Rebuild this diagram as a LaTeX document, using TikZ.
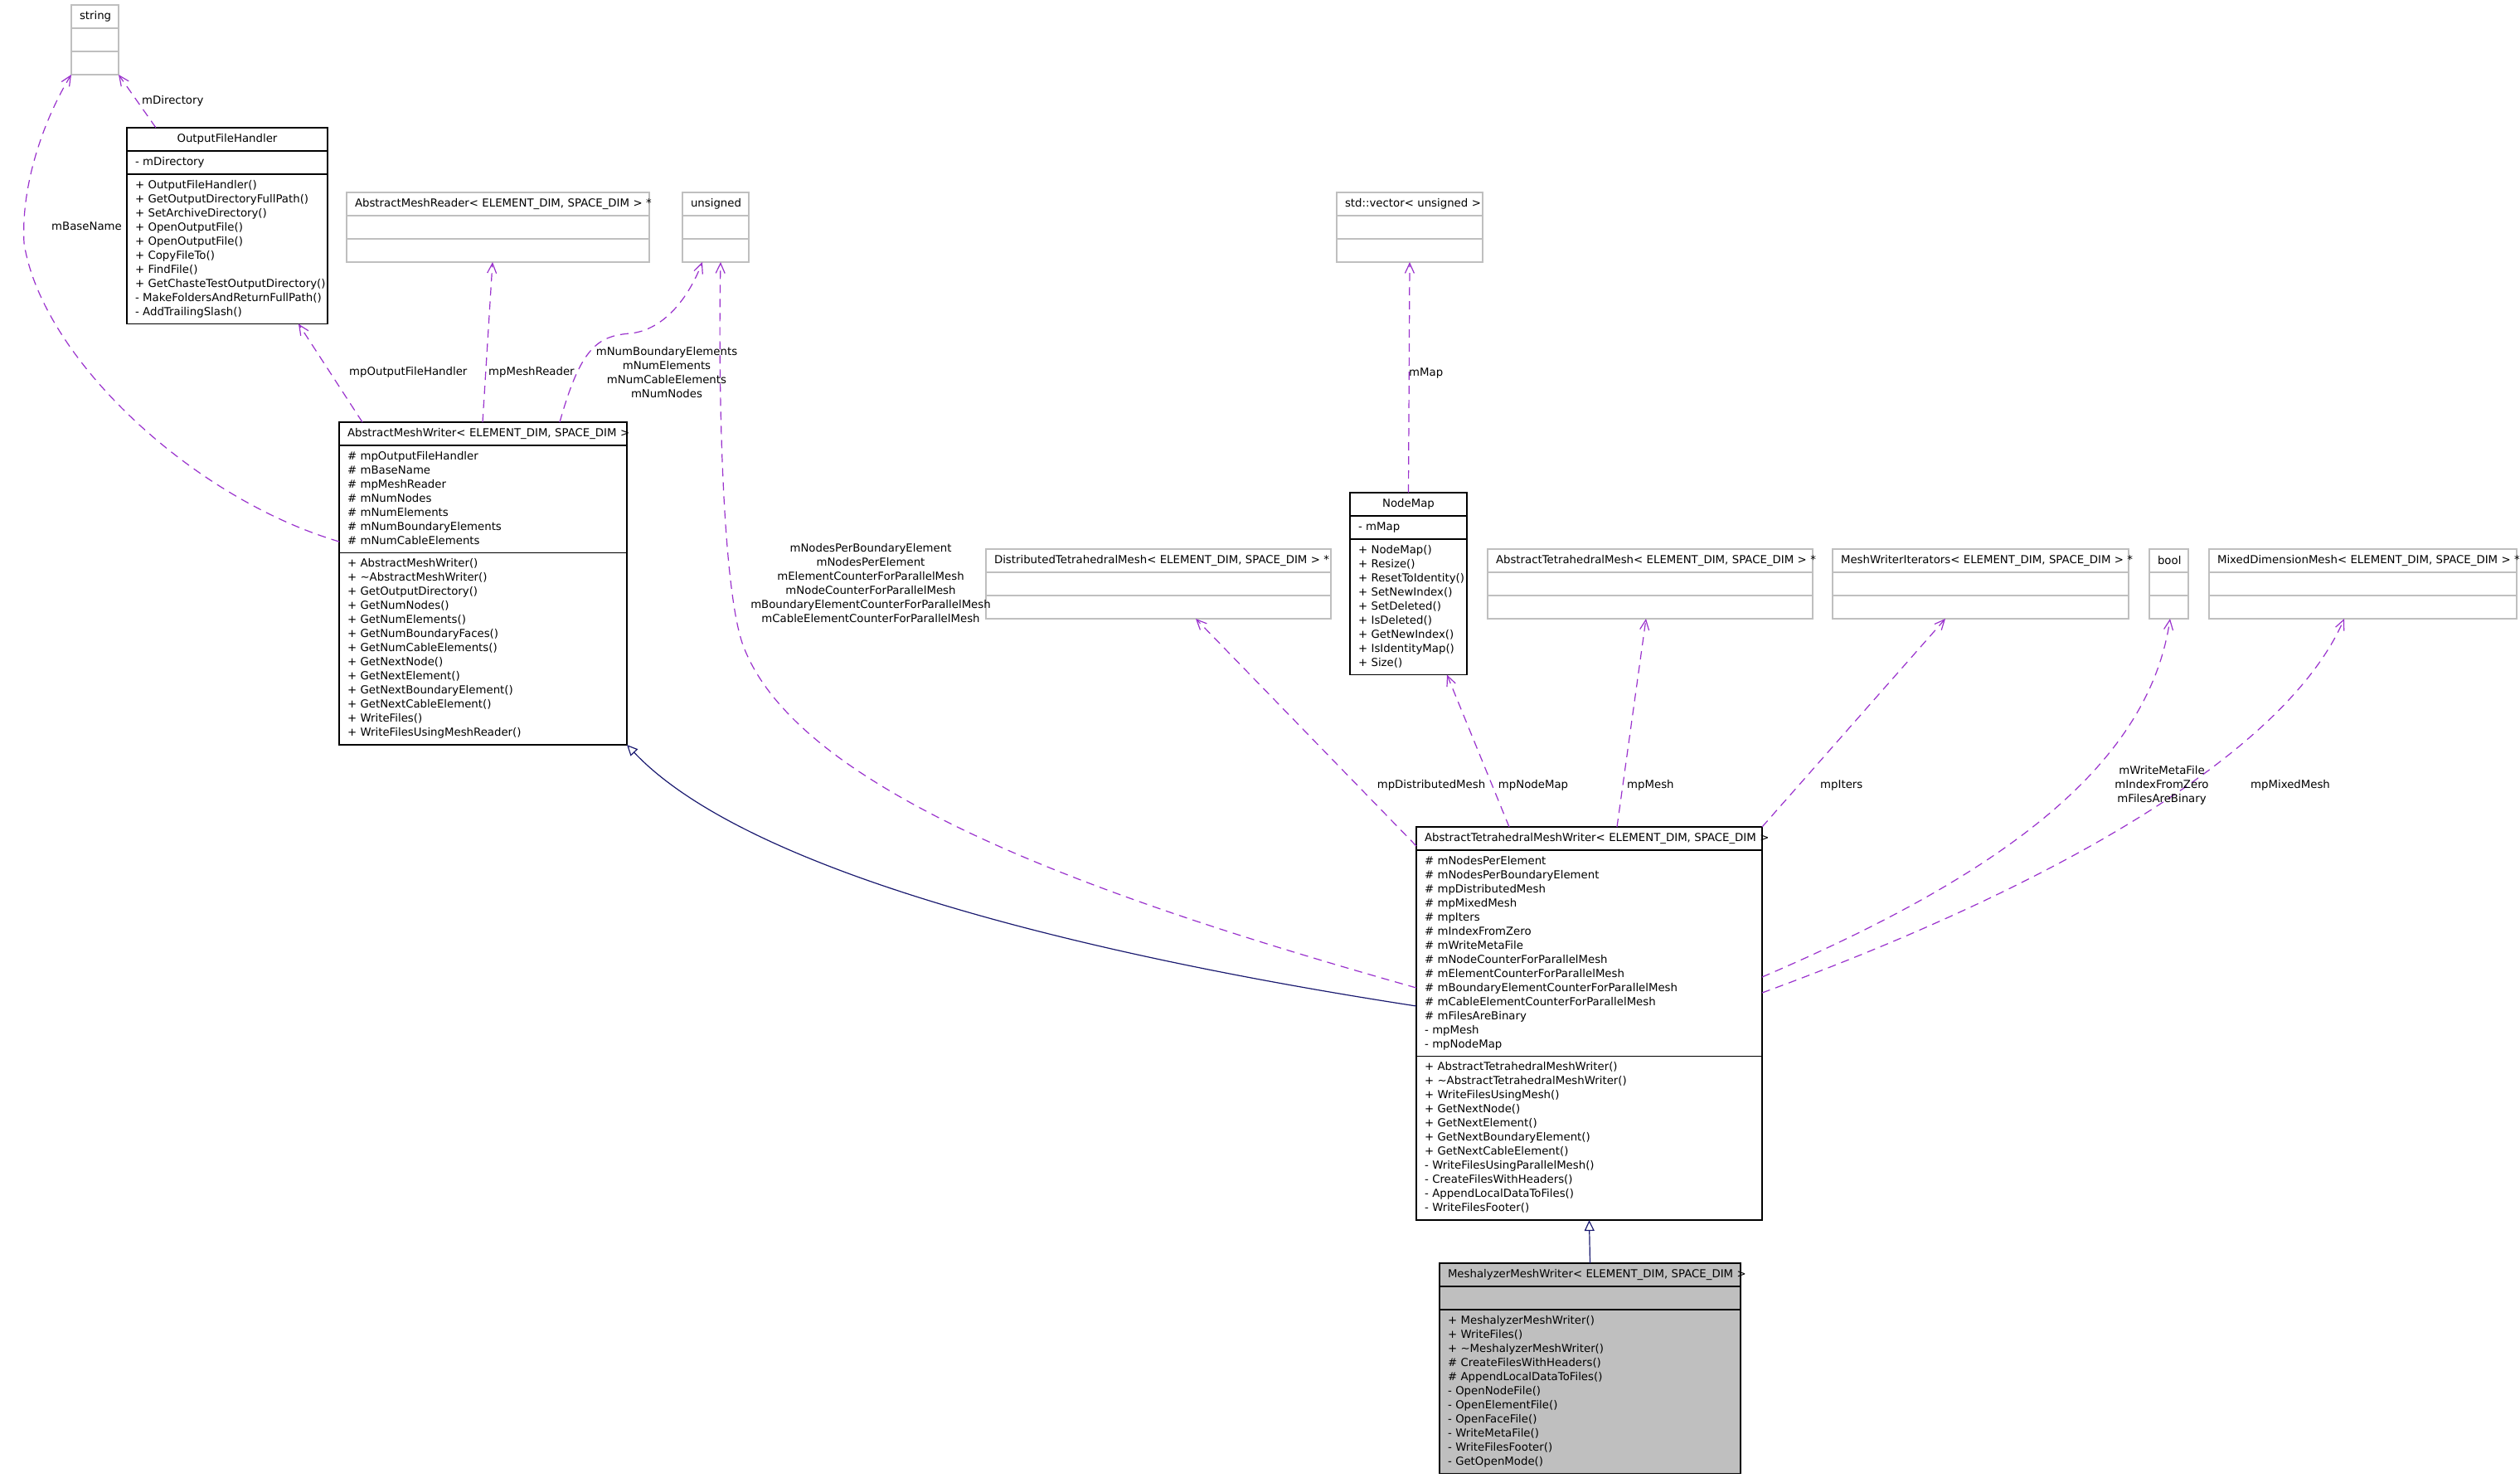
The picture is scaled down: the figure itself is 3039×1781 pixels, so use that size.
\documentclass[tikz,border=0pt]{standalone}
\usepackage{fontspec}
\setmainfont{DejaVu Sans}
\usetikzlibrary{positioning,arrows.meta}
\definecolor{doxorchid}{HTML}{9A32CD}
\definecolor{doxnavy}{HTML}{191970}
\definecolor{doxgrey}{HTML}{BFBFBF}
\newcommand{\dox}{\fontsize{13.3}{17}\selectfont}
\newcommand{\mlist}[1]{\begin{tabular}{@{}l@{}}#1\end{tabular}}
% centred title, running out to the right when too long
\newcommand{\clstitle}[1]{\hbox to\linewidth{\hskip 0pt plus 1fil#1\hskip 0pt plus 1fil minus 1fil}}
\tikzset{
  clsbox/.style={draw=black, fill=white, line width=1.2pt, outer sep=0pt,
              inner xsep=10pt, inner ysep=5.25pt, minimum height=28pt, font=\dox},
  clshead/.style={clsbox, anchor=north west, align=left},
  clspart/.style={clsbox, align=left},
  extcls/.style={draw=doxgrey},
  curcls/.style={fill=doxgrey},
  useedge/.style={draw=doxorchid, line width=1.2pt, dash pattern=on 10pt off 7pt,
              -{Straight Barb[length=12pt,width=11pt]}},
  isaedge/.style={draw=doxnavy, line width=1.2pt, -{Triangle[open,length=13pt,width=12pt]}},
  lbl/.style={font=\dox, inner sep=0pt},
}
\begin{document}
\begin{tikzpicture}[x=1pt, y=-1pt]
\path[use as bounding box, fill=white] (0,0) rectangle (3039,1781);

% --- top row ---
\node[clshead, extcls, text width=37pt] (strg) at (86,6) {\clstitle{string}};
\node[clspart, extcls, text width=37pt, below=0pt of strg] (strgA) {};
\node[clspart, extcls, text width=37pt, below=0pt of strgA] (strgM) {};

\node[clshead, text width=222pt] (ofh) at (153,154) {\clstitle{OutputFileHandler}};
\node[clspart, text width=222pt, below=0pt of ofh] (ofhA) {\mlist{- mDirectory}};
\node[clspart, text width=222pt, below=0pt of ofhA] (ofhM) {\mlist{+ OutputFileHandler()\\
  + GetOutputDirectoryFullPath()\\ + SetArchiveDirectory()\\ + OpenOutputFile()\\
  + OpenOutputFile()\\ + CopyFileTo()\\ + FindFile()\\ + GetChasteTestOutputDirectory()\\
  - MakeFoldersAndReturnFullPath()\\ - AddTrailingSlash()}};

\node[clshead, extcls, text width=345pt] (amr) at (418,232)
  {\clstitle{AbstractMeshReader< ELEMENT\_DIM, SPACE\_DIM > *}};
\node[clspart, extcls, text width=345pt, below=0pt of amr] (amrA) {};
\node[clspart, extcls, text width=345pt, below=0pt of amrA] (amrM) {};

\node[clshead, extcls, text width=60pt] (uns) at (823,232) {\clstitle{unsigned}};
\node[clspart, extcls, text width=60pt, below=0pt of uns] (unsA) {};
\node[clspart, extcls, text width=60pt, below=0pt of unsA] (unsM) {};

\node[clshead, extcls, text width=156pt] (vec) at (1612,232) {\clstitle{std::vector< unsigned >}};
\node[clspart, extcls, text width=156pt, below=0pt of vec] (vecA) {};
\node[clspart, extcls, text width=156pt, below=0pt of vecA] (vecM) {};

% --- middle row ---
\node[clshead, text width=327pt] (amw) at (409,509)
  {\clstitle{AbstractMeshWriter< ELEMENT\_DIM, SPACE\_DIM >}};
\node[clspart, text width=327pt, below=0pt of amw] (amwA) {\mlist{\# mpOutputFileHandler\\
  \# mBaseName\\ \# mpMeshReader\\ \# mNumNodes\\ \# mNumElements\\
  \# mNumBoundaryElements\\ \# mNumCableElements}};
\node[clspart, text width=327pt, below=0pt of amwA] (amwM) {\mlist{+ AbstractMeshWriter()\\
  + \textasciitilde AbstractMeshWriter()\\ + GetOutputDirectory()\\ + GetNumNodes()\\
  + GetNumElements()\\ + GetNumBoundaryFaces()\\ + GetNumCableElements()\\
  + GetNextNode()\\ + GetNextElement()\\ + GetNextBoundaryElement()\\
  + GetNextCableElement()\\ + WriteFiles()\\ + WriteFilesUsingMeshReader()}};

\node[clshead, text width=121pt] (nmap) at (1628,594) {\clstitle{NodeMap}};
\node[clspart, text width=121pt, below=0pt of nmap] (nmapA) {\mlist{- mMap}};
\node[clspart, text width=121pt, below=0pt of nmapA] (nmapM) {\mlist{+ NodeMap()\\ + Resize()\\
  + ResetToIdentity()\\ + SetNewIndex()\\ + SetDeleted()\\ + IsDeleted()\\
  + GetNewIndex()\\ + IsIdentityMap()\\ + Size()}};

\node[clshead, extcls, text width=396pt] (dtm) at (1189,662)
  {\clstitle{DistributedTetrahedralMesh< ELEMENT\_DIM, SPACE\_DIM > *}};
\node[clspart, extcls, text width=396pt, below=0pt of dtm] (dtmA) {};
\node[clspart, extcls, text width=396pt, below=0pt of dtmA] (dtmM) {};

\node[clshead, extcls, text width=372pt] (atm) at (1794,662)
  {\clstitle{AbstractTetrahedralMesh< ELEMENT\_DIM, SPACE\_DIM > *}};
\node[clspart, extcls, text width=372pt, below=0pt of atm] (atmA) {};
\node[clspart, extcls, text width=372pt, below=0pt of atmA] (atmM) {};

\node[clshead, extcls, text width=337pt] (mwi) at (2210,662)
  {\clstitle{MeshWriterIterators< ELEMENT\_DIM, SPACE\_DIM > *}};
\node[clspart, extcls, text width=337pt, below=0pt of mwi] (mwiA) {};
\node[clspart, extcls, text width=337pt, below=0pt of mwiA] (mwiM) {};

\node[clshead, extcls, text width=27pt] (bool) at (2592,662) {\clstitle{bool}};
\node[clspart, extcls, text width=27pt, below=0pt of bool] (boolA) {};
\node[clspart, extcls, text width=27pt, below=0pt of boolA] (boolM) {};

\node[clshead, extcls, text width=351pt] (mdm) at (2664,662)
  {\clstitle{MixedDimensionMesh< ELEMENT\_DIM, SPACE\_DIM > *}};
\node[clspart, extcls, text width=351pt, below=0pt of mdm] (mdmA) {};
\node[clspart, extcls, text width=351pt, below=0pt of mdmA] (mdmM) {};

% --- bottom ---
\node[clshead, text width=397pt] (atmw) at (1708,997)
  {\clstitle{AbstractTetrahedralMeshWriter< ELEMENT\_DIM, SPACE\_DIM >}};
\node[clspart, text width=397pt, below=0pt of atmw] (atmwA) {\mlist{\# mNodesPerElement\\
  \# mNodesPerBoundaryElement\\ \# mpDistributedMesh\\ \# mpMixedMesh\\ \# mpIters\\
  \# mIndexFromZero\\ \# mWriteMetaFile\\ \# mNodeCounterForParallelMesh\\
  \# mElementCounterForParallelMesh\\ \# mBoundaryElementCounterForParallelMesh\\
  \# mCableElementCounterForParallelMesh\\ \# mFilesAreBinary\\ - mpMesh\\ - mpNodeMap}};
\node[clspart, text width=397pt, below=0pt of atmwA] (atmwM) {\mlist{+ AbstractTetrahedralMeshWriter()\\
  + \textasciitilde AbstractTetrahedralMeshWriter()\\ + WriteFilesUsingMesh()\\
  + GetNextNode()\\ + GetNextElement()\\ + GetNextBoundaryElement()\\
  + GetNextCableElement()\\ - WriteFilesUsingParallelMesh()\\ - CreateFilesWithHeaders()\\
  - AppendLocalDataToFiles()\\ - WriteFilesFooter()}};

\node[clshead, curcls, text width=343pt] (msh) at (1736,1523)
  {\clstitle{MeshalyzerMeshWriter< ELEMENT\_DIM, SPACE\_DIM >}};
\node[clspart, curcls, text width=343pt, below=0pt of msh] (mshA) {};
\node[clspart, curcls, text width=343pt, below=0pt of mshA] (mshM) {\mlist{+ MeshalyzerMeshWriter()\\
  + WriteFiles()\\ + \textasciitilde MeshalyzerMeshWriter()\\ \# CreateFilesWithHeaders()\\
  \# AppendLocalDataToFiles()\\ - OpenNodeFile()\\ - OpenElementFile()\\ - OpenFaceFile()\\
  - WriteMetaFile()\\ - WriteFilesFooter()\\ - GetOpenMode()}};

% --- connectors ---
\draw[useedge] ([xshift=35pt]ofh.north west) -- (strgM.south east);
\draw[useedge] ([yshift=-51.25pt]amwA.west) .. controls (230,600) and (50,430) .. (29,293)
  .. controls (25,220) and (55,140) .. (strgM.south west);
\draw[useedge] ([xshift=28pt]amw.north west) -- ([xshift=207pt]ofhM.south west);
\draw[useedge] ([xshift=173pt]amw.north west) -- ([xshift=176pt]amrM.south west);
\draw[useedge] ([xshift=266pt]amw.north west) .. controls (700,420) and (720,405) .. (760,402)
  .. controls (800,398) and (830,360) .. ([xshift=24pt]unsM.south west);
\draw[useedge] ([yshift=-41.75pt]atmwA.west) .. controls (1350,1090) and (960,960) .. (895,775)
  .. controls (870,700) and (866,450) .. ([xshift=46pt]unsM.south west);
\draw[useedge] (nmap.north) -- (vecM.south);
\draw[useedge] ([yshift=-9pt]atmw.west) -- ([xshift=253pt]dtmM.south west);
\draw[useedge] ([xshift=112pt]atmw.north west) -- ([xshift=117pt]nmapM.south west);
\draw[useedge] ([xshift=242pt]atmw.north west) -- ([xshift=191pt]atmM.south west);
\draw[useedge] (atmw.north east) -- ([xshift=136pt]mwiM.south west);
\draw[useedge] ([yshift=-28.75pt]atmwA.east) .. controls (2400,1060) and (2590,930)
  .. ([xshift=25pt]boolM.south west);
\draw[useedge] ([yshift=-47.75pt]atmwA.east) .. controls (2500,1060) and (2760,900)
  .. ([xshift=163pt]mdmM.south west);
\draw[isaedge] ([yshift=-63.75pt]atmwA.west) .. controls (1300,1150) and (900,1050) .. (amwM.south east);
\draw[isaedge] (msh.north) -- (atmwM.south);

% --- labels ---
\node[lbl, anchor=west] (lDir) at (171,122) {mDirectory};
\node[lbl, anchor=east] (lBase) at (147,273) {mBaseName};
\node[lbl, anchor=west] (lOut) at (421,449) {mpOutputFileHandler};
\node[lbl, anchor=west] (lRead) at (589,449) {mpMeshReader};
\node[lbl, align=center] (lNum) at (804,449)
  {mNumBoundaryElements\\mNumElements\\mNumCableElements\\mNumNodes};
\node[lbl, align=center] (lPar) at (1050,703)
  {mNodesPerBoundaryElement\\mNodesPerElement\\mElementCounterForParallelMesh\\
   mNodeCounterForParallelMesh\\mBoundaryElementCounterForParallelMesh\\
   mCableElementCounterForParallelMesh};
\node[lbl, anchor=west] (lMap) at (1699,450) {mMap};
\node[lbl] (lDist) at (1726,947) {mpDistributedMesh};
\node[lbl] (lNode) at (1849,947) {mpNodeMap};
\node[lbl, anchor=west] (lMesh) at (1962,947) {mpMesh};
\node[lbl, anchor=west] (lIt) at (2195,947) {mpIters};
\node[lbl, align=center] (lMeta) at (2607,947) {mWriteMetaFile\\mIndexFromZero\\mFilesAreBinary};
\node[lbl, anchor=west] (lMix) at (2714,947) {mpMixedMesh};

\end{tikzpicture}
\end{document}
